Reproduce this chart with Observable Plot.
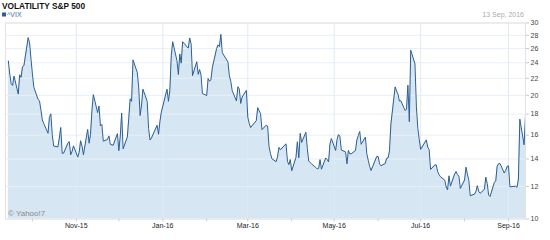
<!DOCTYPE html>
<html><head><meta charset="utf-8">
<script src="https://cdn.jsdelivr.net/npm/d3@7"></script>
<script src="https://cdn.jsdelivr.net/npm/@observablehq/plot@0.6"></script>
<style>
body{margin:0;background:#fff;}
#wrap{position:relative;width:550px;height:240px;overflow:hidden;}
</style>
</head><body><div id="wrap"></div>
<script>
const titleText = "VOLATILITY S&P 500";
const seriesName = "^VIX";
const dateText = "13 Sep, 2016";
const creditText = "© Yahoo!7";

const months = ["2015-09","2015-10","2015-11","2015-12","2016-01","2016-02","2016-03","2016-04","2016-05","2016-06","2016-07","2016-08","2016-09"];
const monthDays = [
  [14,15,16,17,18,21,22,23,24,25,28,29,30],
  [1,2,5,6,7,8,9,12,13,14,15,16,19,20,21,22,23,26,27,28,29,30],
  [2,3,4,5,6,9,10,11,12,13,16,17,18,19,20,23,24,25,27,30],
  [1,2,3,4,7,8,9,10,11,14,15,16,17,18,21,22,23,24,28,29,30,31],
  [4,5,6,7,8,11,12,13,14,15,19,20,21,22,25,26,27,28,29],
  [1,2,3,4,5,8,9,10,11,12,16,17,18,19,22,23,24,25,26,29],
  [1,2,3,4,7,8,9,10,11,14,15,16,17,18,21,22,23,24,28,29,30,31],
  [1,4,5,6,7,8,11,12,13,14,15,18,19,20,21,22,25,26,27,28,29],
  [2,3,4,5,6,9,10,11,12,13,16,17,18,19,20,23,24,25,26,27,31],
  [1,2,3,6,7,8,9,10,13,14,15,16,17,20,21,22,23,24,27,28,29,30],
  [1,5,6,7,8,11,12,13,14,15,18,19,20,21,22,25,26,27,28,29],
  [1,2,3,4,5,8,9,10,11,12,15,16,17,18,19,22,23,24,25,26,29,30,31],
  [1,2,6,7,8,9,12,13]
];
const vixClose = [
  [24.25,22.54,21.35,21.14,22.28,20.14,22.44,22.13,23.47,23.62,27.63,26.83,24.50],
  [22.55,20.94,19.54,19.40,18.40,17.42,17.08,16.17,17.67,18.03,16.05,15.05,14.98,15.75,16.70,14.45,14.46,15.29,15.43,14.33,14.61,15.07],
  [14.15,14.54,15.51,15.05,14.33,16.52,15.29,16.06,18.37,20.08,18.16,18.84,16.85,16.99,15.47,15.62,15.93,15.19,15.12,16.13],
  [14.67,15.91,18.11,14.81,15.84,17.60,19.61,19.34,24.39,22.73,20.95,17.86,18.94,20.70,19.34,16.60,15.57,15.74,16.91,16.08,17.29,18.21],
  [20.70,19.34,20.59,24.99,27.01,24.30,22.47,25.22,23.95,27.02,26.05,27.59,26.69,22.34,24.15,22.50,23.11,22.42,20.20],
  [19.98,21.98,21.65,21.84,23.38,26.00,26.54,26.29,28.14,25.40,24.11,22.31,21.64,20.53,19.38,20.98,20.72,19.11,19.81,20.55],
  [17.70,17.09,16.70,16.86,17.35,18.67,18.34,18.05,16.50,16.92,16.84,14.99,14.44,14.02,13.79,14.17,14.94,14.74,15.24,13.82,13.56,13.95],
  [13.10,14.12,15.42,14.09,16.16,15.36,16.26,14.85,13.84,13.72,13.62,13.35,13.24,13.28,13.95,13.22,14.08,13.96,13.77,15.22,15.70],
  [14.68,15.60,16.05,15.91,14.72,14.57,13.63,14.69,14.41,14.41,14.68,15.57,15.95,16.33,15.20,15.82,14.42,13.90,13.43,13.12,14.19],
  [14.20,13.63,13.47,13.65,14.05,14.08,14.64,17.03,20.97,20.50,20.14,19.37,19.41,18.37,18.48,21.17,17.25,25.76,23.85,18.75,16.64,15.63],
  [14.77,15.58,14.96,14.76,13.20,13.54,13.55,13.04,12.82,12.67,12.44,11.97,11.77,12.74,12.02,12.87,13.05,12.83,12.72,11.87],
  [12.44,13.37,12.86,12.42,11.39,11.50,11.66,12.05,11.68,11.55,11.81,12.64,12.19,11.43,11.34,12.27,12.38,13.45,13.63,13.65,12.94,13.12,13.42],
  [13.48,11.98,12.02,11.94,12.51,17.50,15.16,17.85]
];
const yTicks = [10,12,14,16,18,20,22,24,26,28,30];
const labeledMonths = ["2015-11-01","2016-01-01","2016-03-01","2016-05-01","2016-07-01","2016-09-01"];
const unlabeledMonths = ["2015-10-01","2015-12-01","2016-02-01","2016-04-01","2016-06-01","2016-08-01"];
const xDomain = ["2015-09-12","2016-09-13"];
const yDomain = [10,30];

const data = [];
months.forEach((m, i) => monthDays[i].forEach((d, j) => {
  data.push({date: new Date(m + "-" + String(d).padStart(2,"0") + "T00:00:00Z"), v: vixClose[i][j]});
}));
const toDate = s => new Date(s + "T00:00:00Z");
const fmt = d3.utcFormat("%b-%y");

const chart = Plot.plot({
  width: 550, height: 240,
  marginTop: 22.5, marginBottom: 21.5, marginLeft: 5, marginRight: 25,
  style: {fontFamily: "'Liberation Sans', Arial, sans-serif", fontSize: "7px", background: "#fff", overflow: "visible"},
  x: {type: "utc", domain: xDomain.map(toDate)},
  y: {type: "log", domain: yDomain},
  marks: [
    Plot.areaY(data, {x: "date", y1: () => yDomain[0], y2: "v", fill: "#d6e6f2"}),
    Plot.gridY(yTicks, {stroke: "#e8eff6", strokeOpacity: 1}),
    Plot.gridX(labeledMonths.map(toDate), {stroke: "#e0eaf4", strokeOpacity: 1}),
    Plot.lineY(data, {x: "date", y: "v", stroke: "#2b5e95", strokeWidth: 1}),
    Plot.frame({stroke: "#e2e2e2"}),
    Plot.axisY(yTicks, {anchor: "right", tickSize: 3, tickPadding: 2, stroke: "#c8c8c8", fill: "#444", label: null, tickFormat: d => String(d)}),
    Plot.axisX(labeledMonths.map(toDate), {tickSize: 3, tickPadding: 1.5, stroke: "#d0d0d0", fill: "#222", label: null, tickFormat: fmt}),
    Plot.axisX(unlabeledMonths.map(toDate), {tickSize: 3, stroke: "#d0d0d0", label: null, tickFormat: () => ""})
  ]
});

const svg = d3.select(chart);
svg.append("text").attr("x", 2).attr("y", 8.7).attr("text-anchor", "start")
  .attr("font-size", "8.3px").attr("font-weight", "bold").attr("fill", "#111")
  .text(titleText);
svg.append("rect").attr("x", 2).attr("y", 12.5).attr("width", 4).attr("height", 4).attr("fill", "#2b5e95");
svg.append("text").attr("x", 7).attr("y", 17).attr("text-anchor", "start")
  .attr("font-size", "7px").attr("fill", "#3a6ea8")
  .text(seriesName);
svg.append("text").attr("x", 524).attr("y", 17.3).attr("text-anchor", "end")
  .attr("font-size", "7px").attr("fill", "#aaa")
  .text(dateText);
svg.append("text").attr("x", 8).attr("y", 215.5).attr("text-anchor", "start")
  .attr("font-size", "8px").attr("fill", "#8a8a8a")
  .text(creditText);

document.getElementById("wrap").appendChild(chart);
</script>
</body></html>
